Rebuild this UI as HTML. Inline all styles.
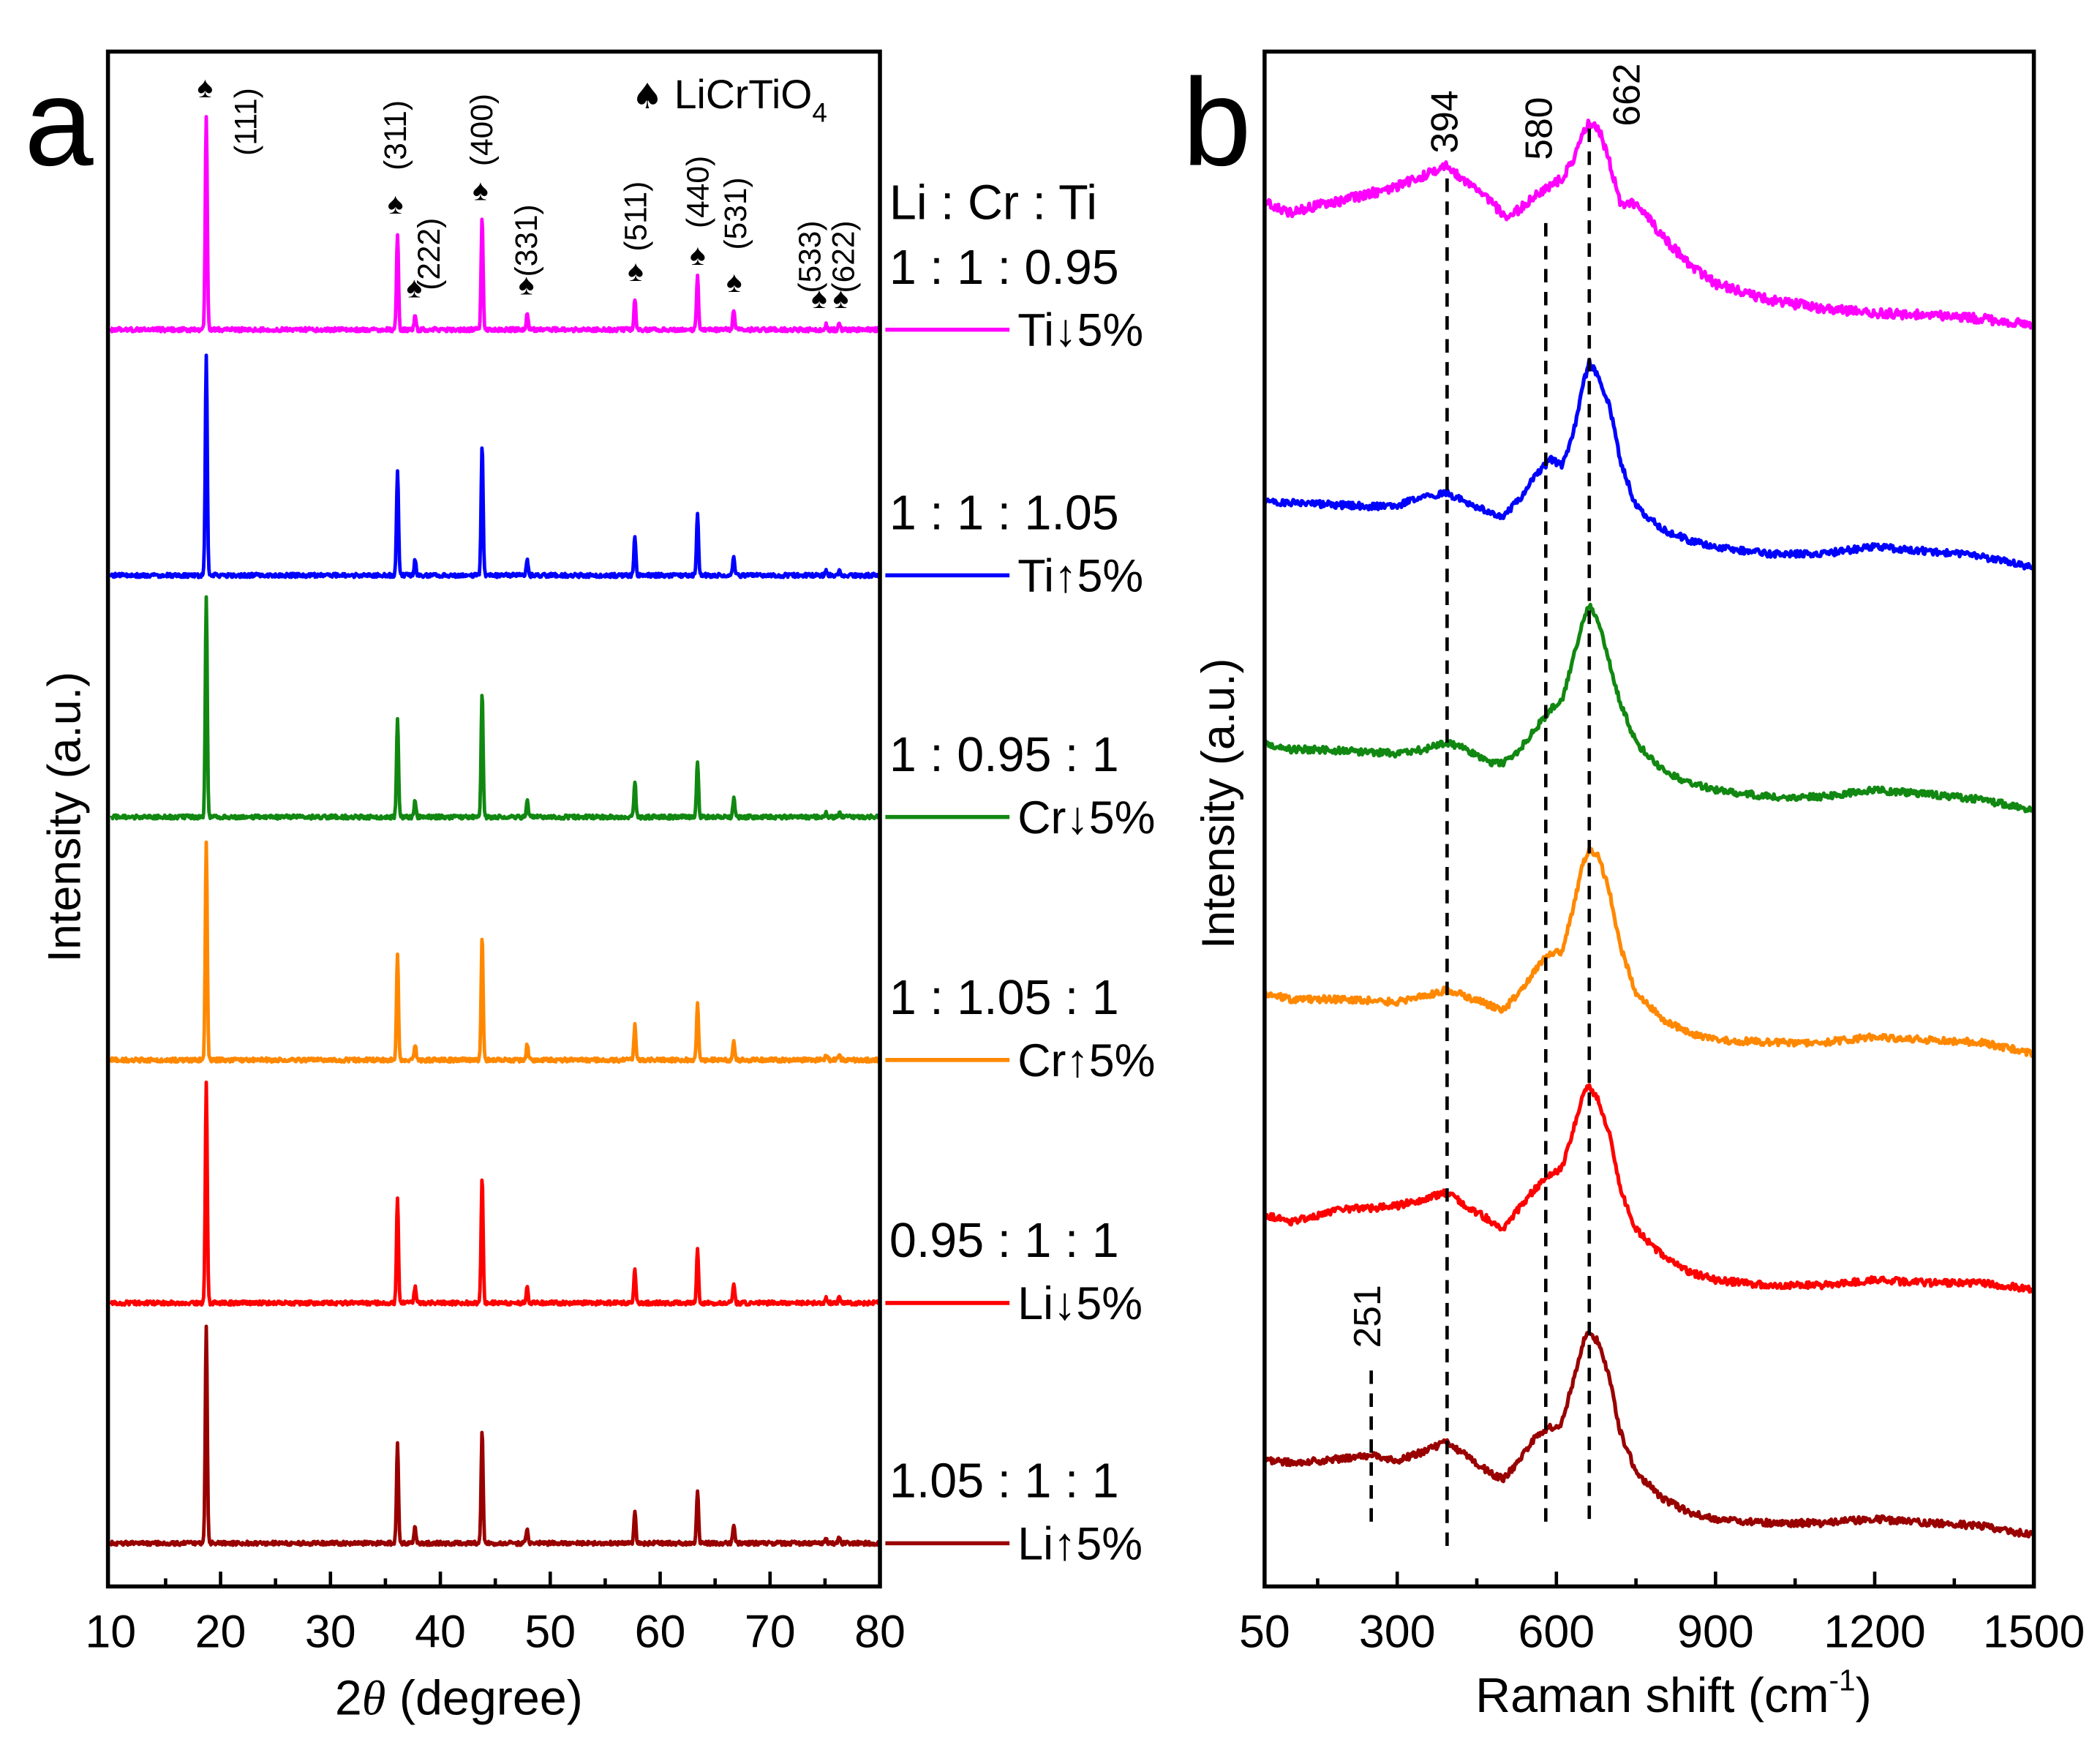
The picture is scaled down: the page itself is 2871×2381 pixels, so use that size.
<!DOCTYPE html>
<html><head><meta charset="utf-8"><style>
html,body{margin:0;padding:0;background:#fff}
svg{display:block}
text{font-family:"Liberation Sans",Arial,sans-serif;fill:#000}
</style></head><body>
<svg id="fig" xmlns="http://www.w3.org/2000/svg" width="2871" height="2381" viewBox="0 0 1556 1290">
<rect width="1556" height="1290" fill="#fff"/>
<g id="pa"></g>
<g id="pb"></g>
</svg>
<script>
// ---------- Panel a data ----------
const xrdPeaks2Theta = [18.7, 36.1, 37.7, 43.8, 47.9, 57.7, 63.4, 66.7, 75.1, 76.3];
const xrdHkl = ["(111)","(311)","(222)","(400)","(331)","(511)","(440)","(531)","(533)","(622)"];
const xrdSeriesNames = ["Ti↓5%","Ti↑5%","Cr↓5%","Cr↑5%","Li↓5%","Li↑5%"];
const xrdRatios = ["1 : 1 : 0.95","1 : 1 : 1.05","1 : 0.95 : 1","1 : 1.05 : 1","0.95 : 1 : 1","1.05 : 1 : 1"];
const xrdColors = ["#ff00ff","#0000ff","#118811","#ff8800","#ff0000","#990000"];
const xrdOffsets = [1056, 874, 695, 515, 335, 157];
const xrdH_Ti_dn = [159, 71, 10, 83, 12, 23, 39, 14, 4, 4];
const xrdH_Ti_up = [163, 78, 12, 97, 12, 29, 45, 14, 4, 4];
const xrdH_Cr_dn = [162, 74, 12, 93, 12, 27, 42, 14, 4, 4];
const xrdH_Cr_up = [162, 78, 12, 92, 12, 26, 42, 14, 4, 4];
const xrdH_Li_dn = [163, 78, 12, 94, 12, 25, 40, 14, 4, 4];
const xrdH_Li_up = [162, 73, 12, 85, 12, 25, 39, 14, 4, 4];
const xrdHeights = [xrdH_Ti_dn, xrdH_Ti_up, xrdH_Cr_dn, xrdH_Cr_up, xrdH_Li_dn, xrdH_Li_up];
const xrdTicks = [10,20,30,40,50,60,70,80];

// ---------- Panel b data ----------
const ramanShift = [50,100,150,200,250,300,350,394,430,480,500,530,560,590,610,630,650,662,680,700,720,750,800,850,900,1000,1100,1200,1300,1400,1500];
const raman_Ti_dn = [1150,1142,1148,1152,1157,1162,1170,1178,1165,1150,1140,1145,1155,1163,1168,1180,1200,1210,1205,1180,1150,1150,1125,1105,1090,1078,1072,1068,1067,1064,1060];
const raman_Ti_up = [928,928,927,926,925,926,932,935,928,920,918,930,948,960,955,975,1015,1032,1020,1000,960,925,908,900,895,890,890,895,892,888,880];
const raman_Cr_dn = [750,745,745,744,743,742,745,750,745,735,735,745,760,775,780,810,840,852,840,810,780,750,730,720,715,710,710,715,712,708,700];
const raman_Cr_up = [565,560,560,560,559,558,562,567,562,555,552,565,582,595,595,625,660,672,665,640,600,565,545,535,530,528,528,532,530,528,520];
const raman_Li_dn = [400,395,400,405,405,407,412,417,407,395,390,405,420,430,435,460,490,495,485,460,420,390,370,358,352,348,348,352,350,350,345];
const raman_Li_up = [218,217,218,220,222,218,225,232,222,208,205,218,235,243,245,275,305,315,305,280,240,210,190,180,175,172,172,175,172,170,163];
const ramanSeries = [raman_Ti_dn, raman_Ti_up, raman_Cr_dn, raman_Cr_up, raman_Li_dn, raman_Li_up];
const ramanMarks = [251, 394, 580, 662];
const ramanTicks = [50,300,600,900,1200,1500];

const NS = "http://www.w3.org/2000/svg";
function mk(tag, attrs, parent, txt){
  const e = document.createElementNS(NS, tag);
  for (const k in attrs) e.setAttribute(k, attrs[k]);
  if (txt !== undefined) e.textContent = txt;
  parent.appendChild(e); return e;
}
const A = {x0:80, x1:652, y0:38, y1:1175};
const B = {x0:937, x1:1507, y0:38, y1:1175};
const xA = v => 82 + (v-10)/70*570;
const yA = v => 1300 - v;
const xB = v => B.x0 + (v-50)/1450*570;
const yB = v => 1300 - v;
function tex(i){ const s = Math.sin(i*12.9898 + i*i*0.013)*43758.5453; return s - Math.floor(s) - 0.5; } // line texture only

const pa = document.getElementById('pa');
const pb = document.getElementById('pb');

xrdHeights.forEach((hs, s) => {
  const base = xrdOffsets[s];
  let pts = [];
  for (let t = 10; t <= 80.001; t += 0.06) {
    let v = base + tex(Math.round(t*50)+s*999)*3;
    xrdPeaks2Theta.forEach((p, k) => {
      const w = 0.09;
      v += hs[k]*Math.exp(-((t-p)*(t-p))/(2*w*w));
    });
    pts.push(xA(t).toFixed(2)+","+yA(v).toFixed(2));
  }
  const pl = mk('polyline', {points: pts.join(' '), fill:'none', stroke: xrdColors[s], 'stroke-width':2.6, 'stroke-linejoin':'round'}, pa);
  
  
  const by = yA(base);
  const ll = mk('line', {x1:656, x2:748, y1:by, y2:by, stroke:xrdColors[s], 'stroke-width':3}, pa);
  
  
  const lt = mk('text', {x:754, y:by+12, 'font-size':34}, pa, xrdSeriesNames[s]);
  
  
  const rt = mk('text', {x:659, y:by-34, 'font-size':36}, pa, xrdRatios[s]);
  
  
});
const hdr = mk('text', {x:659, y:162, 'font-size':36}, pa, "Li : Cr : Ti");



const hklLab = [[182,90],[293,100],[318,188],[357,96],[390,178],[471,160],[517,142],[545,158],[600,190],[625,190]];
const spade = [[152,72],[293,158],[307,220],[356,148],[390,218],[471,208],[517,196],[544,216],[607,228],[623,228]];
xrdHkl.forEach((h, k) => {
  const [lx, ly] = hklLab[k];
  const t = mk('text', {x:lx, y:ly, 'font-size':23, transform:`rotate(-90 ${lx} ${ly})`, 'text-anchor':'middle', 'dominant-baseline':'central'}, pa, h);
  
  
  const sp = mk('text', {x:spade[k][0], y:spade[k][1], 'font-size':22, 'text-anchor':'middle', 'font-family':'DejaVu Sans'}, pa, "♠");
  
  
});
const lg = mk('text', {x:468, y:80, 'font-size':30}, pa);


mk('tspan', {'font-family':'DejaVu Sans','font-size':26}, lg, "♠ ");
mk('tspan', {}, lg, "LiCrTiO");
mk('tspan', {'font-size':20, dy:10}, lg, "4");

const fa = mk('rect', {x:A.x0, y:A.y0, width:A.x1-A.x0, height:A.y1-A.y0, fill:'none', stroke:'#000', 'stroke-width':3}, pa);


for (let t = 15; t < 80; t += 5) {
  const maj = t % 10 === 0;
  mk('line', {x1:xA(t), x2:xA(t), y1:A.y1, y2:A.y1-(maj?11:6), stroke:'#000', 'stroke-width':2.5}, pa);
}
xrdTicks.forEach(t => {
  const tl = mk('text', {x:xA(t), y:1220, 'font-size':34, 'text-anchor':'middle'}, pa, t);
  
  
});
const xta = mk('text', {x:340, y:1270, 'font-size':36, 'text-anchor':'middle'}, pa);


mk('tspan', {}, xta, "2");
mk('tspan', {'font-family':'Liberation Serif','font-style':'italic'}, xta, "θ");
mk('tspan', {}, xta, " (degree)");
const yta = mk('text', {x:48, y:605, 'font-size':34, 'text-anchor':'middle', transform:'rotate(-90 48 605)', 'dominant-baseline':'central'}, pa, "Intensity (a.u.)");


const la = mk('text', {x:18, y:122, 'font-size':92}, pa, "a");



ramanSeries.forEach((vals, s) => {
  let pts = [];
  for (let w = 50; w <= 1500; w += 2) {
    let i = 0; while (i < ramanShift.length-2 && ramanShift[i+1] < w) i++;
    const f = (w - ramanShift[i])/(ramanShift[i+1]-ramanShift[i]);
    const v = vals[i] + (vals[i+1]-vals[i])*f + tex(w+s*777)*(s===0?7:5);
    pts.push(xB(w).toFixed(2)+","+yB(v).toFixed(2));
  }
  const pl = mk('polyline', {points: pts.join(' '), fill:'none', stroke: xrdColors[s], 'stroke-width':2.8, 'stroke-linejoin':'round'}, pb);
  
  
});
const dashY = {251:[1015,1132], 394:[132,1148], 580:[165,1132], 662:[95,1132]};
const labPos = {251:[1013,975], 394:[1070,90], 580:[1140,95], 662:[1205,70]};
ramanMarks.forEach(m => {
  const d = mk('line', {x1:xB(m), x2:xB(m), y1:dashY[m][0], y2:dashY[m][1], stroke:'#000', 'stroke-width':2.5, 'stroke-dasharray':'10 7'}, pb);
  
  
  const [lx, ly] = labPos[m];
  const t = mk('text', {x:lx, y:ly, 'font-size':28, 'text-anchor':'middle', 'dominant-baseline':'central', transform:`rotate(-90 ${lx} ${ly})`}, pb, m);
  
  
});
const fb = mk('rect', {x:B.x0, y:B.y0, width:B.x1-B.x0, height:B.y1-B.y0, fill:'none', stroke:'#000', 'stroke-width':3}, pb);


for (let t = 150; t < 1500; t += 150) {
  const maj = t % 300 === 0;
  mk('line', {x1:xB(t), x2:xB(t), y1:B.y1, y2:B.y1-(maj?11:6), stroke:'#000', 'stroke-width':2.5}, pb);
}
ramanTicks.forEach(t => {
  const tl = mk('text', {x:xB(t), y:1220, 'font-size':34, 'text-anchor':'middle'}, pb, t);
  
  
});
const xtb = mk('text', {x:1240, y:1268, 'font-size':36, 'text-anchor':'middle'}, pb);


mk('tspan', {}, xtb, "Raman shift (cm");
mk('tspan', {'font-size':22, dy:-16}, xtb, "-1");
mk('tspan', {dy:16}, xtb, ")");
const ytb = mk('text', {x:903, y:595, 'font-size':34, 'text-anchor':'middle', transform:'rotate(-90 903 595)', 'dominant-baseline':'central'}, pb, "Intensity (a.u.)");


const lb = mk('text', {x:876, y:122, 'font-size':92}, pb, "b");


</script>
</body></html>
